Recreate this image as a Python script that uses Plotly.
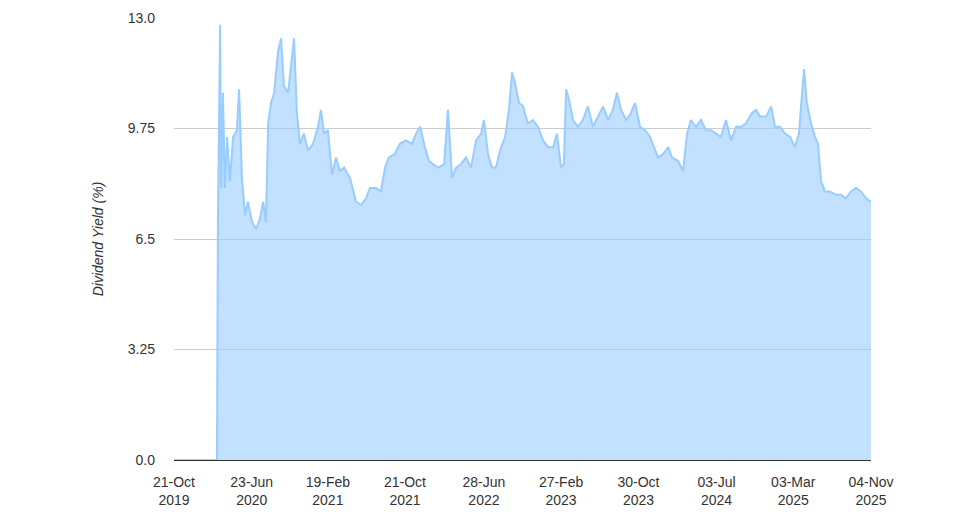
import plotly.graph_objects as go
import pandas as pd

start = pd.Timestamp("2019-10-21")
day_offsets = [0,135,136,139,146,149,155,161,168,177,187,199,206,215,225,234,247,260,272,282,291,298,307,317,329,339,348,361,370,380,389,399,411,424,440,456,465,475,487,500,513,525,538,557,576,592,608,620,639,655,668,680,699,715,734,753,766,779,794,807,820,836,855,867,880,893,908,924,940,956,972,981,994,1006,1019,1035,1048,1060,1070,1079,1092,1105,1120,1136,1152,1168,1184,1200,1212,1225,1234,1241,1250,1263,1279,1294,1310,1326,1342,1358,1374,1389,1402,1415,1431,1446,1459,1475,1491,1507,1519,1532,1548,1564,1576,1595,1611,1624,1636,1652,1668,1684,1700,1715,1731,1747,1763,1779,1795,1810,1829,1842,1855,1874,1890,1902,1918,1934,1950,1965,1978,1988,1994,2003,2016,2029,2038,2048,2060,2076,2095,2111,2127,2143,2159,2174,2190,2206]
yields = [0,0,0,7.0,12.8,8.0,10.8,8.0,9.5,8.2,9.5,9.7,10.9,8.3,7.2,7.6,7.0,6.8,7.1,7.6,7.0,9.9,10.5,10.8,12.0,12.4,11.0,10.8,11.5,12.4,10.2,9.3,9.6,9.1,9.3,9.8,10.3,9.6,9.7,8.4,8.9,8.5,8.6,8.3,7.6,7.5,7.7,8.0,8.0,7.9,8.6,8.9,9.0,9.3,9.4,9.3,9.6,9.8,9.2,8.8,8.7,8.6,8.7,10.3,8.3,8.6,8.7,8.9,8.6,9.4,9.6,10.0,9.0,8.6,8.6,9.2,9.5,10.3,11.4,11.1,10.5,10.4,9.9,10.0,9.8,9.4,9.2,9.2,9.6,8.6,8.7,10.9,10.6,10.0,9.8,10.0,10.4,9.8,10.1,10.4,10.0,10.3,10.8,10.3,10.0,10.2,10.5,9.8,9.7,9.5,9.2,8.9,9.0,9.2,8.9,8.8,8.5,9.6,10.0,9.8,10.0,9.7,9.7,9.6,9.5,10.0,9.4,9.8,9.8,9.9,10.2,10.3,10.1,10.1,10.4,9.8,9.8,9.6,9.5,9.2,9.6,10.8,11.5,10.5,9.9,9.5,9.3,8.2,7.9,7.9,7.8,7.8,7.7,7.9,8.0,7.9,7.7,7.6]
tick_dates = ["2019-10-21","2020-06-23","2021-02-19","2021-10-21","2022-06-28","2023-02-27","2023-10-30","2024-07-03","2025-03-03","2025-11-04"]
tick_labels = ["21-Oct<br>2019","23-Jun<br>2020","19-Feb<br>2021","21-Oct<br>2021","28-Jun<br>2022","27-Feb<br>2023","30-Oct<br>2023","03-Jul<br>2024","03-Mar<br>2025","04-Nov<br>2025"]
y_ticks = [0, 3.25, 6.5, 9.75, 13.0]
y_labels = ["0.0", "3.25", "6.5", "9.75", "13.0"]

dates = [start + pd.Timedelta(days=d) for d in day_offsets]
fig = go.Figure(go.Scatter(x=dates, y=yields, mode="lines", fill="tozeroy",
                           line=dict(color="#99ccff", width=2), fillcolor="rgba(153,204,255,0.6)"))
fig.update_layout(
    width=957, height=515, margin=dict(l=166, r=94, t=10, b=63, autoexpand=False),
    plot_bgcolor="white", paper_bgcolor="white", showlegend=False,
    font=dict(family="Arial, Liberation Sans", size=14, color="#333"),
    xaxis=dict(range=[tick_dates[0], tick_dates[-1]], tickvals=tick_dates, ticktext=tick_labels,
               showgrid=False, ticks="", automargin=False, ticklabelstandoff=12,
               tickfont=dict(size=14, color="#333")),
    yaxis=dict(range=[0, 13], tickvals=y_ticks, ticktext=y_labels, showgrid=True, gridcolor="#cccccc",
               zeroline=True, zerolinecolor="#333", zerolinewidth=1, automargin=False,
               ticklabelstandoff=18, tickfont=dict(size=14, color="#333"),
               title=dict(text="<i>Dividend Yield (%)</i>", font=dict(size=14, color="#333"), standoff=20)),
)
fig.write_html("out.html")
